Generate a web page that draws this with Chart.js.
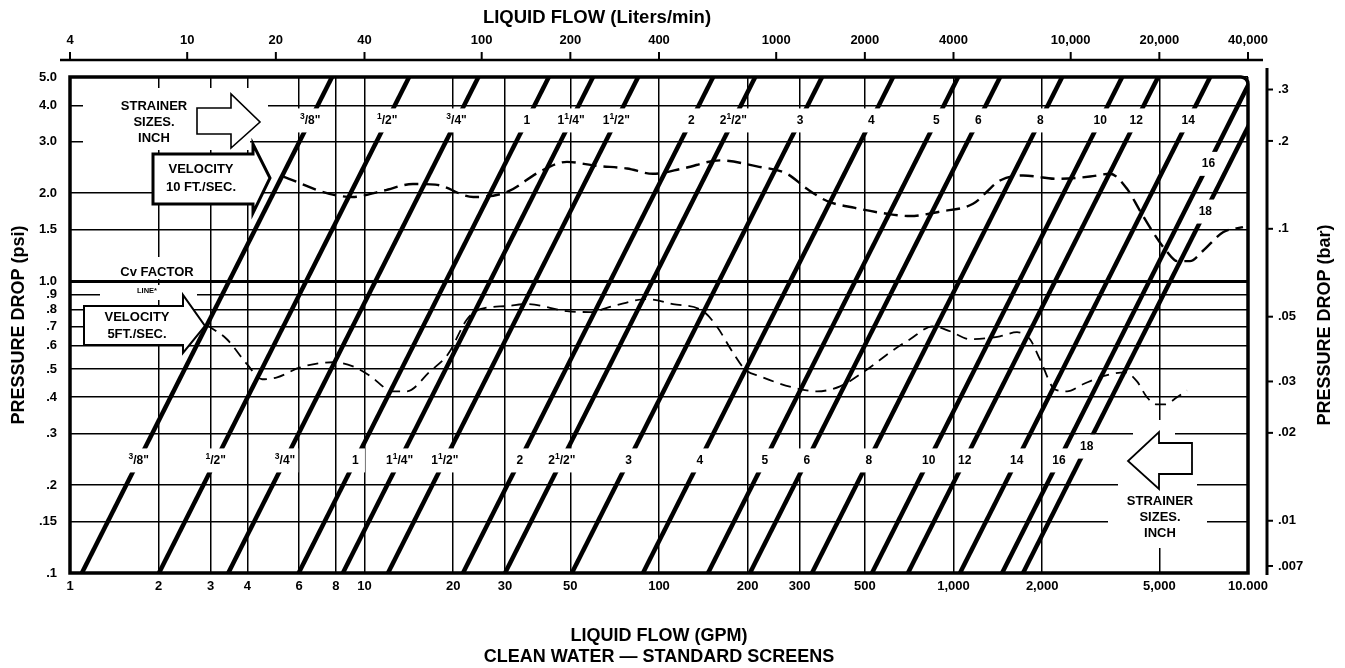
<!DOCTYPE html>
<html>
<head>
<meta charset="utf-8">
<script src="https://cdn.jsdelivr.net/npm/chart.js@4.4.1/dist/chart.umd.min.js"></script>
<style>html,body{margin:0;padding:0;background:#fff}#c{display:block}</style>
</head>
<body>
<canvas id="c" width="1345" height="668"></canvas>
<script>
// ---------------- DATA ----------------
const gpmTicks  = [1, 2, 3, 4, 6, 8, 10, 20, 30, 50, 100, 200, 300, 500, 1000, 2000, 5000, 10000];
const gpmLabels = ['1','2','3','4','6','8','10','20','30','50','100','200','300','500','1,000','2,000','5,000','10.000'];
const lpmTicks  = [4, 10, 20, 40, 100, 200, 400, 1000, 2000, 4000, 10000, 20000, 40000];
const lpmLabels = ['4','10','20','40','100','200','400','1000','2000','4000','10,000','20,000','40,000'];
const psiTicks  = [0.1, 0.15, 0.2, 0.3, 0.4, 0.5, 0.6, 0.7, 0.8, 0.9, 1.0, 1.5, 2.0, 3.0, 4.0, 5.0];
const psiLabels = ['.1','.15','.2','.3','.4','.5','.6','.7','.8','.9','1.0','1.5','2.0','3.0','4.0','5.0'];
const barTicks  = [0.007, 0.01, 0.02, 0.03, 0.05, 0.1, 0.2, 0.3];
const barLabels = ['.007','.01','.02','.03','.05','.1','.2','.3'];

// strainer sizes and their flow coefficient (psi = (gpm / Cv)^2)
const strainerSizes = ['3/8"','1/2"','3/4"','1','1 1/4"','1 1/2"','2','2 1/2"','3','4','5','6','8','10','12','14','16','18'];
const strainerCv    = [3.47, 6.34, 10.9, 18.9, 26.7, 38.0, 68.3, 94.9, 160, 279, 464, 644, 1046, 1672, 2215, 3327, 4624, 5446];

// velocity 10 ft/sec curve
const vel10Gpm = [5.3, 7.6, 9.1, 11.6, 14.6, 17.4, 23.4, 30.5, 39.4, 48.7, 61.6, 77.9, 95.4, 120.6, 161, 215, 272, 318, 372, 463, 595, 712, 900, 1165, 1438, 1722, 2246, 2908, 3400, 3883, 4298, 4758, 5308, 5742, 6353, 7035, 8225, 9616];
const vel10Psi = [2.28, 1.99, 1.94, 2.04, 2.15, 2.14, 1.94, 2.02, 2.37, 2.56, 2.48, 2.43, 2.33, 2.43, 2.59, 2.47, 2.33, 2.07, 1.88, 1.78, 1.70, 1.67, 1.73, 1.84, 2.21, 2.30, 2.24, 2.28, 2.33, 2.07, 1.74, 1.47, 1.26, 1.17, 1.17, 1.27, 1.47, 1.53];
// velocity 5 ft/sec curve
const vel5Gpm = [2.92, 3.41, 3.99, 4.49, 5.05, 6.04, 7.82, 9.14, 10.4, 12.5, 13.9, 16.7, 19.2, 22.3, 24.7, 30.5, 35.6, 48.7, 58.3, 69.8, 91.0, 111.5, 141, 157, 178, 196, 220, 285, 344, 412, 509, 609, 712, 852, 973, 1138, 1438, 1643, 1818, 1966, 2212, 2429, 2752, 3218, 3822, 4198, 4539, 4909, 5226, 5741, 6208];
const vel5Psi = [0.706, 0.632, 0.519, 0.461, 0.468, 0.506, 0.527, 0.510, 0.475, 0.419, 0.419, 0.491, 0.561, 0.740, 0.801, 0.821, 0.834, 0.789, 0.783, 0.821, 0.867, 0.834, 0.789, 0.700, 0.570, 0.498, 0.472, 0.432, 0.419, 0.436, 0.498, 0.570, 0.632, 0.700, 0.673, 0.632, 0.647, 0.668, 0.632, 0.539, 0.425, 0.419, 0.443, 0.472, 0.487, 0.453, 0.400, 0.378, 0.378, 0.400, 0.422];

const psiPerBar = 15.1; // right-hand scale alignment as printed

// ---------------- LAYOUT / STYLE ----------------
const FONT = "'Liberation Sans', Arial, Helvetica, sans-serif";
const labelRowPsi = { lower: 0.243, upper: 3.55 };
const labelRowOverride = { 16: { upper: 2.52 }, 17: { upper: 1.73, lower: 0.271 } };

const eraseRects = [
  [83, 88, 268, 140], [83, 140, 250, 150],
  [115, 257, 200, 279], [100, 285, 197, 300],
  [1133, 420, 1175, 440], [1118, 440, 1197, 492], [1108, 492, 1207, 548]
];
const shapes = [
  { lw: 1.6, pts: [[197,108],[231,108],[231,94],[260,122],[231,148],[231,134],[197,134]] },
  { lw: 3,   pts: [[153,154],[253,154],[253,144],[270,178],[253,213],[253,204],[153,204]] },
  { lw: 2,   pts: [[84,306],[183,306],[183,295],[205,326],[183,353],[183,345],[84,345]] },
  { lw: 1.8, pts: [[1192,443],[1159,443],[1159,432],[1128,461],[1159,489],[1159,474],[1192,474]] }
];
const texts = [
  { t: 'STRAINER', x: 154, y: 106, s: 13 }, { t: 'SIZES.', x: 154, y: 122, s: 13 }, { t: 'INCH', x: 154, y: 138, s: 13 },
  { t: 'VELOCITY', x: 201, y: 169, s: 13 }, { t: '10 FT./SEC.', x: 201, y: 187, s: 13 },
  { t: 'Cv FACTOR', x: 157, y: 272, s: 13 }, { t: 'LINE*', x: 147, y: 291, s: 7.5 },
  { t: 'VELOCITY', x: 137, y: 317, s: 13 }, { t: '5FT./SEC.', x: 137, y: 334, s: 13 },
  { t: 'STRAINER', x: 1160, y: 501, s: 13 }, { t: 'SIZES.', x: 1160, y: 517, s: 13 }, { t: 'INCH', x: 1160, y: 533, s: 13 }
];

// ---------------- DATASETS ----------------
const datasets = [];
strainerCv.forEach((cv, i) => {
  datasets.push({
    label: strainerSizes[i],
    data: [{ x: cv * Math.sqrt(0.1), y: 0.1 }, { x: cv * Math.sqrt(5), y: 5 }],
    borderColor: '#000', borderWidth: 4.5, pointRadius: 0, borderCapStyle: 'butt', clip: 0, tension: 0
  });
});
datasets.push({
  label: 'VELOCITY 10 FT./SEC.',
  data: vel10Gpm.map((g, i) => ({ x: g, y: vel10Psi[i] })),
  borderColor: '#000', borderWidth: 2.4, borderDash: [14, 7], pointRadius: 0, cubicInterpolationMode: 'monotone', clip: 0
});
datasets.push({
  label: 'VELOCITY 5 FT./SEC.',
  data: vel5Gpm.map((g, i) => ({ x: g, y: vel5Psi[i] })),
  borderColor: '#000', borderWidth: 1.8, borderDash: [11, 7], pointRadius: 0, cubicInterpolationMode: 'monotone', clip: 0
});

// ---------------- HELPERS ----------------
function drawSize(c, s, cx, cy) {
  let whole = '', num = '', rest = s;
  if (s.includes('/')) {
    const [a, b] = s.split('/');
    const parts = a.split(' ');
    if (parts.length === 2) { whole = parts[0]; num = parts[1]; } else { num = parts[0]; }
    rest = '/' + b;
  }
  const big = `bold 12px ${FONT}`, small = `bold 8.5px ${FONT}`;
  c.font = big; const ww = c.measureText(whole).width, wr = c.measureText(rest).width;
  c.font = small; const wn = c.measureText(num).width;
  const total = ww + wn + wr;
  const bw = Math.max(total + 6, 19);
  c.fillStyle = '#fff';
  c.fillRect(cx - bw / 2, cy - 12, bw, 24);
  let x = cx - total / 2;
  c.fillStyle = '#000'; c.textBaseline = 'middle'; c.textAlign = 'left';
  c.font = big; c.fillText(whole, x, cy); x += ww;
  c.font = small; c.fillText(num, x, cy - 3.5); x += wn;
  c.font = big; c.fillText(rest, x, cy);
}

const deco = {
  id: 'deco',
  beforeDatasetsDraw(chart) {
    const c = chart.ctx;
    c.save();
    c.fillStyle = '#fff';
    eraseRects.forEach(r => c.fillRect(r[0], r[1], r[2] - r[0], r[3] - r[1]));
    shapes.forEach(s => {
      c.beginPath();
      s.pts.forEach((p, i) => i ? c.lineTo(p[0], p[1]) : c.moveTo(p[0], p[1]));
      c.closePath();
      c.fillStyle = '#fff'; c.fill();
      c.lineWidth = s.lw; c.strokeStyle = '#000'; c.lineJoin = 'miter'; c.stroke();
    });
    c.fillStyle = '#000'; c.textAlign = 'center'; c.textBaseline = 'middle';
    texts.forEach(t => { c.font = `bold ${t.s}px ${FONT}`; c.fillText(t.t, t.x, t.y); });
    c.restore();
  },
  afterDatasetsDraw(chart) {
    const c = chart.ctx;
    const xs = chart.scales.x, ys = chart.scales.y, x2 = chart.scales.x2, y2 = chart.scales.y2;
    c.save();
    // strainer size labels (two rows)
    strainerCv.forEach((cv, i) => {
      const ov = labelRowOverride[i] || {};
      ['lower', 'upper'].forEach(row => {
        const p = ov[row] !== undefined ? ov[row] : labelRowPsi[row];
        drawSize(c, strainerSizes[i], xs.getPixelForValue(cv * Math.sqrt(p)), ys.getPixelForValue(p));
      });
    });
    // frame
    const { left, right, top, bottom } = chart.chartArea;
    c.strokeStyle = '#000'; c.lineWidth = 3.5; c.lineJoin = 'miter';
    c.beginPath();
    c.moveTo(left, bottom); c.lineTo(left, top); c.lineTo(right - 7, top);
    c.arcTo(right, top, right, top + 7, 7); c.lineTo(right, bottom); c.closePath(); c.stroke();
    // top axis (liters/min)
    c.lineWidth = 2.5;
    c.beginPath(); c.moveTo(left - 10, top - 17); c.lineTo(right + 15, top - 17); c.stroke();
    c.lineWidth = 2;
    lpmTicks.forEach(v => {
      const px = x2.getPixelForValue(v);
      c.beginPath(); c.moveTo(px, top - 17); c.lineTo(px, top - 25); c.stroke();
    });
    // right axis (bar)
    const ax = right + 19;
    c.lineWidth = 3;
    c.beginPath(); c.moveTo(ax, top - 9); c.lineTo(ax, bottom + 2); c.stroke();
    c.lineWidth = 2;
    barTicks.forEach(v => {
      const py = y2.getPixelForValue(v);
      c.beginPath(); c.moveTo(ax, py); c.lineTo(ax + 6, py); c.stroke();
    });
    // titles
    c.fillStyle = '#000'; c.textAlign = 'center'; c.textBaseline = 'middle';
    c.font = `bold 18.5px ${FONT}`;
    c.fillText('LIQUID FLOW (Liters/min)', 597, 18);
    c.translate(1325, (top + bottom) / 2);
    c.rotate(-Math.PI / 2);
    c.font = `bold 18px ${FONT}`;
    c.fillText('PRESSURE DROP (bar)', 0, 0);
    c.restore();
  }
};

const tickFont = { family: FONT, size: 13, weight: 'bold' };
const setTicks = (vals) => (s) => { s.ticks = vals.map(v => ({ value: v })); };

new Chart(document.getElementById('c').getContext('2d'), {
  type: 'line',
  data: { datasets },
  plugins: [deco],
  options: {
    responsive: false, animation: false, devicePixelRatio: 1, events: [],
    layout: { padding: 0 },
    plugins: { legend: { display: false }, tooltip: { enabled: false }, title: { display: false } },
    scales: {
      x: {
        type: 'logarithmic', position: 'bottom', min: 1, max: 10000,
        afterBuildTicks: setTicks(gpmTicks), afterFit: s => { s.height = 95; },
        grid: { color: '#000', lineWidth: 1.5, drawTicks: false },
        border: { display: false },
        ticks: { autoSkip: false, maxRotation: 0, minRotation: 0, padding: 6, color: '#000', font: tickFont, callback: (v, i) => gpmLabels[i] },
        title: { display: true, text: ['LIQUID FLOW (GPM)', 'CLEAN WATER \u2014 STANDARD SCREENS'], color: '#000',
                 font: { family: FONT, size: 18, weight: 'bold', lineHeight: 1.17 }, padding: { top: 0, bottom: 0 } }
      },
      y: {
        type: 'logarithmic', position: 'left', min: 0.1, max: 5,
        afterBuildTicks: setTicks(psiTicks), afterFit: s => { s.width = 70; },
        grid: { color: '#000', lineWidth: ctx => (ctx.tick && ctx.tick.value === 1) ? 3 : 1.5, drawTicks: false },
        border: { display: false },
        ticks: { autoSkip: false, padding: 13, color: '#000', font: tickFont, callback: (v, i) => psiLabels[i] },
        title: { display: true, text: 'PRESSURE DROP (psi)', color: '#000', font: { family: FONT, size: 18, weight: 'bold' }, padding: { top: 8, bottom: 0 } }
      },
      x2: {
        type: 'logarithmic', position: 'top', min: 4, max: 40000,
        afterBuildTicks: setTicks(lpmTicks), afterFit: s => { s.height = 77; },
        grid: { display: false, drawTicks: false }, border: { display: false },
        ticks: { autoSkip: false, maxRotation: 0, minRotation: 0, padding: 29, color: '#000', font: tickFont, callback: (v, i) => lpmLabels[i] }
      },
      y2: {
        type: 'logarithmic', position: 'right', min: 0.1 / psiPerBar, max: 5 / psiPerBar,
        afterBuildTicks: setTicks(barTicks), afterFit: s => { s.width = 97; },
        grid: { display: false, drawTicks: false }, border: { display: false },
        ticks: { autoSkip: false, padding: 30, color: '#000', font: tickFont, callback: (v, i) => barLabels[i] }
      }
    }
  }
});
</script>
</body>
</html>
